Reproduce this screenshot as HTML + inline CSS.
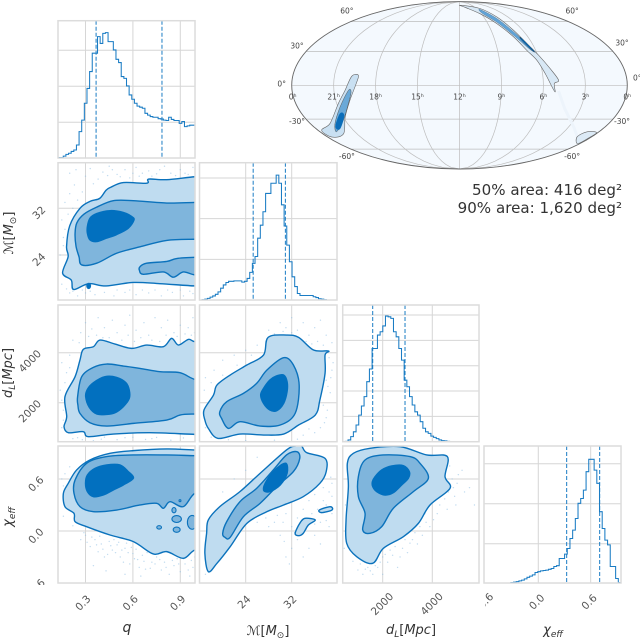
<!DOCTYPE html>
<html>
<head>
<meta charset="utf-8">
<title>Corner plot</title>
<style>
html,body{margin:0;padding:0;background:#fff;width:640px;height:638px;overflow:hidden}
svg{display:block;filter:blur(0.35px);font-family:"DejaVu Sans","Liberation Sans",sans-serif}
</style>
</head>
<body>
<svg id="chart" xmlns="http://www.w3.org/2000/svg" width="640" height="638" viewBox="0 0 640 638">
  <defs>
    <clipPath id="clip-x-neg"><rect x="485" y="590" width="30" height="30"/></clipPath>
    <clipPath id="clip-y-neg"><rect x="20" y="570" width="35" height="15"/></clipPath>
    <clipPath id="clip-sky"><ellipse cx="459.5" cy="85.3" rx="167.8" ry="83.7"/></clipPath>
  </defs>
  <g id="panels"></g>
  <g id="sky"></g>
  <g id="tick-labels"></g>
  <text x="622" y="195" text-anchor="end" font-size="15.1" fill="#333">50% area: 416 deg²</text>
  <text x="622" y="213" text-anchor="end" font-size="15.1" fill="#333">90% area: 1,620 deg²</text>
  <text x="127" y="632" text-anchor="middle" font-size="14" font-style="italic" fill="#333">q</text>
  <text x="268" y="635" text-anchor="middle" font-size="13" fill="#333"><tspan font-style="italic">ℳ</tspan>[<tspan font-style="italic">M</tspan><tspan dy="3" font-size="9">⊙</tspan><tspan dy="-3">]</tspan></text>
  <text x="411" y="634" text-anchor="middle" font-size="13" fill="#333"><tspan font-style="italic">d</tspan><tspan dy="3" font-size="9" font-style="italic">L</tspan><tspan dy="-3">[</tspan><tspan font-style="italic">Mpc</tspan>]</text>
  <text x="553" y="634" text-anchor="middle" font-size="13" fill="#333"><tspan font-style="italic">χ</tspan><tspan dy="3" font-size="9" font-style="italic">eff</tspan></text>
  <text transform="translate(13 233) rotate(-90)" text-anchor="middle" font-size="13" fill="#333"><tspan font-style="italic">ℳ</tspan>[<tspan font-style="italic">M</tspan><tspan dy="3" font-size="9">⊙</tspan><tspan dy="-3">]</tspan></text>
  <text transform="translate(12 373) rotate(-90)" text-anchor="middle" font-size="13" fill="#333"><tspan font-style="italic">d</tspan><tspan dy="3" font-size="9" font-style="italic">L</tspan><tspan dy="-3">[</tspan><tspan font-style="italic">Mpc</tspan>]</text>
  <text transform="translate(12 517) rotate(-90)" text-anchor="middle" font-size="13" fill="#333"><tspan font-style="italic">χ</tspan><tspan dy="3" font-size="9" font-style="italic">eff</tspan></text>
</svg>
<script>
// ---------- histogram values (density) ----------
const histQ = [.02,.02,.06,.11,.14,.19,.23,.37,.74,1.06,1.53,1.94,2.41,2.92,2.92,3.38,3.19,3.47,3.49,3.24,3.24,3.01,2.75,2.66,2.27,2.22,2.01,1.76,1.64,1.53,1.45,1.42,1.39,1.25,1.2,1.16,1.14,1.14,1.1,1.09,1.06,1.05,1.14,1.08,1.05,1.05,.97,1.02,.88,.9,.92,.92];
const histM = [0,.01,.02,.04,.07,.1,.14,.2,.29,.37,.43,.46,.46,.47,.47,.47,.44,.46,.53,.68,.9,1.07,1.52,1.84,2.17,2.62,2.62,2.87,2.87,3.07,2.87,2.34,1.82,1.35,.94,.57,.33,.16,.11,.11,.11,.11,.11,.08,.06,.03,.02,.01,0,0,0,0];
const histD = [0,.01,.07,.2,.39,.66,1.05,1.41,1.78,2.37,2.87,3.68,3.68,4.21,4.34,4.57,4.96,4.93,4.87,4.34,4.14,3.68,3.22,2.43,2.17,1.78,1.45,1.18,1.05,.79,.53,.39,.33,.22,.17,.12,.07,.04,.03,.01,0,0,0,0,0,0,0,0,0,0,0];
const histChi = [0,0,0,0,0,0,0,0,.01,.01,.03,.04,.05,.07,.09,.12,.16,.19,.22,.28,.3,.32,.33,.34,.36,.38,.43,.45,.63,.63,.74,.88,1.13,1.34,1.63,2.01,2.13,2.34,2.8,3.11,3.11,2.84,2.51,1.8,1.38,1.09,.97,.43,.43,.13,.03];
// ---------- credible-interval quantiles ----------
const quantQ = [.367,.784];
const quantM = [25.3,30.9];
const quantD = [1597,2900];
const quantChi = [.325,.703];
// ---------- tick values and labels ----------
const ticksQ = [.3,.6,.9];
const ticksM = [24,32];
const ticksD = [2000,4000];
const ticksChi = [-.6,0,.6];
const labelsQ = ['0.3','0.6','0.9'];
const labelsM = ['24','32'];
const labelsD = ['2000','4000'];
const labelsChi = ['-0.6','0.0','0.6'];
// ---------- contour levels: q vs chirp mass ----------
const qM90 = [[.993,37.4],[.814,36.9],[.70,37.0],[.687,36.3],[.54,36.4],[.46,35.6],[.43,35.1],[.39,33.7],[.33,33.2],[.265,32],[.20,29],[.18,25.4],[.19,23.7],[.155,20.9],[.21,19.7],[.225,18.1],[.32,19.1],[.43,18.7],[.60,19.3],[.77,19.1],[.993,18.7],[1.1,18.7],[1.1,37.4]];
const qM50 = [[.993,33],[.814,32.9],[.603,33.3],[.476,33.3],[.371,32.2],[.29,31],[.245,29.5],[.234,27.7],[.24,25.5],[.259,23.7],[.276,22.3],[.371,22.6],[.497,24.3],[.645,25.4],[.814,26.5],[.993,26.7],[1.1,26.7],[1.1,33]];
const qM50b = [[.645,22],[.687,22.6],[.814,22.9],[.877,23.4],[.993,23.6],[1.1,23.6],[1.1,20.6],[.993,20.6],[.919,21.1],[.856,20.2],[.793,21.1],[.666,20.7],[.641,21.4]];
const qM10 = [[.312,28.9],[.328,30.3],[.371,31.1],[.455,31.6],[.539,31.3],[.592,30.6],[.607,30],[.571,28.6],[.497,27.5],[.434,26.9],[.371,26.3],[.328,26.6],[.312,27.7]];
const qMBlobs = [[.32,18.7,.012,.45]];
// ---------- contour levels: q vs distance ----------
const qD90 = [[.993,4440],[.951,4533],[.888,4306],[.845,4573],[.793,4240],[.687,4306],[.592,4173],[.487,4346],[.392,4506],[.35,4240],[.286,4133],[.265,3707],[.234,3040],[.17,2240],[.181,1440],[.164,1040],[.191,800],[.286,840],[.318,640],[.476,747],[.708,800],[.993,733],[1.1,733],[1.1,4440]];
const qD50 = [[.993,2933],[.898,3200],[.771,3240],[.645,3373],[.539,3467],[.434,3547],[.35,3413],[.276,3040],[.25,2240],[.252,1900],[.265,1573],[.328,1200],[.434,1067],[.603,1173],[.814,1307],[.898,1507],[.993,1547],[1.1,1547],[1.1,2933]];
const qD10 = [[.301,2240],[.312,2533],[.35,2800],[.423,3040],[.497,3013],[.556,2800],[.577,2507],[.577,2173],[.539,1840],[.487,1600],[.434,1533],[.371,1547],[.324,1813]];
// ---------- contour levels: q vs chi_eff ----------
const qChi90 = [[.993,.935],[.814,.946],[.603,.927],[.455,.896],[.328,.819],[.244,.704],[.191,.55],[.16,.435],[.17,.281],[.227,.204],[.234,.108],[.307,.05],[.455,-.046],[.603,-.123],[.729,-.265],[.814,-.238],[.919,-.315],[.993,-.219],[1.1,-.219],[1.1,.935]];
const qChi50 = [[.993,.869],[.814,.877],[.603,.877],[.434,.858],[.307,.781],[.234,.588],[.227,.435],[.265,.281],[.35,.223],[.497,.242],[.645,.3],[.75,.319],[.793,.262],[.835,.338],[.919,.281],[.993,.435],[1.1,.435],[1.1,.869]];
const qChi10 = [[.3,.55],[.312,.646],[.36,.723],[.434,.762],[.518,.762],[.571,.685],[.603,.608],[.539,.531],[.476,.473],[.413,.415],[.35,.396],[.312,.454]];
const qChiIslands = [[.877,.138,.03,.04],[.766,.042,.015,.02],[.877,.015,.022,.03],[.975,.1,.03,.08],[.86,.24,.013,.03],[.898,.35,.006,.012]];
// ---------- contour levels: chirp mass vs distance ----------
const mD90 = [[16.75,1707],[18.4,2307],[19,2707],[21.3,3107],[24.2,3507],[27.1,3907],[27.9,4613],[31.1,4707],[33.2,4613],[35.8,4107],[38.4,4067],[37.8,3907],[37.8,3173],[36.9,2107],[36.1,1507],[33.2,1107],[30.6,747],[27.1,707],[23,747],[19.2,573],[17.5,973],[16.9,1307]];
const mD50 = [[19.5,1640],[20.7,2040],[23.6,2373],[25.9,2773],[27.7,3307],[30.6,3800],[32.3,3507],[33.3,2707],[32.6,1573],[30,1107],[26.5,1067],[23,1240],[21,973],[19.8,1373]];
const mD10 = [[26.6,2307],[27.1,2573],[28.2,2907],[29.3,3067],[30.6,3107],[31.2,2840],[31.2,2440],[30.6,1973],[29.4,1680],[28.2,1707],[27.1,1973]];
// ---------- contour levels: chirp mass vs chi_eff ----------
const mChi90 = [[17.5,-.469],[16.9,-.258],[17.2,-.027],[17.5,.127],[19.5,.281],[23,.454],[26.5,.665],[31.1,.935],[32.6,.98],[33.7,.98],[34.6,.904],[37.8,.838],[38,.685],[36.9,.55],[34,.396],[30.6,.3],[27.7,.223],[24.2,.088],[21.3,-.181],[19,-.373]];
const mChi50 = [[20,-.027],[20.7,.108],[23,.338],[25.9,.492],[28.8,.704],[31.1,.877],[32.9,.915],[33.4,.838],[32.3,.685],[29.4,.512],[26.5,.319],[23.6,.165],[21.3,-.073],[20.4,-.073]];
const mChi10 = [[27.1,.473],[27.7,.588],[29.4,.723],[31,.781],[31.2,.665],[30,.531],[28.2,.454]];
const mChiTailA = [[32.6,-.027],[33.4,.088],[34.3,.146],[36.1,.127],[34.9,.069],[34,-.027],[33.2,-.054]];
const mChiTailB = [[36.8,.242],[38.7,.281],[39,.242],[37.2,.212]];
// ---------- contour levels: distance vs chi_eff ----------
const dChi90 = [[575,.781],[817,.896],[1489,.954],[2699,.973],[3774,.877],[4607,.858],[4513,.627],[4715,.492],[3908,.3],[3438,.088],[2833,-.065],[2027,-.2],[1597,-.373],[952,-.296],[548,-.142],[522,.127],[616,.512]];
const dChi50 = [[1019,.627],[1288,.819],[2027,.877],[3102,.858],[3505,.781],[3841,.608],[3236,.454],[2430,.262],[1960,.05],[1489,-.027],[1194,.012],[1288,.204],[1019,.396]];
const dChi10 = [[1583,.569],[1691,.627],[1960,.704],[2363,.75],[2833,.754],[3075,.685],[3035,.608],[2766,.531],[2430,.442],[2094,.415],[1758,.454],[1597,.512]];
// ---------- sample scatter ----------
const scatterQM = [[.2,38],[.24,38.6],[.3,37.5],[.33,38.8],[.38,37],[.41,38.2],[.45,39.2],[.5,37.8],[.55,38.6],[.58,37.2],[.62,39],[.66,38],[.7,38.4],[.75,37.9],[.8,39.2],[.84,38],[.9,38.6],[.95,37.8],[.98,39],[.17,33],[.2,34.5],[.23,36],[.15,30],[.16,27],[.19,31],[.14,24],[.17,22],[.2,17.5],[.25,17],[.3,17.5],[.36,17.2],[.42,17.6],[.48,17],[.55,17.6],[.62,17.2],[.7,17.5],[.78,17],[.85,17.6],[.92,17],[.98,17.4],[.44,37.6],[.47,38.6],[.52,37.4],[.6,38],[.64,37.5],[.72,37.5],[.77,38.6],[.87,37.6],[.93,38],[.35,36.2],[.28,34.8],[.25,33.4],[.22,32],[.17,28.4],[.16,25.6],[.15,19],[.18,18.2],[.28,18],[.22,17.8],[.33,17.8],[.5,18],[.58,18],[.66,18],[.74,18],[.82,18],[.9,18],[.96,17.8]];
const scatterQD = [[.22,4500],[.27,4800],[.3,5200],[.34,4950],[.38,5400],[.42,5000],[.47,5300],[.5,4800],[.55,5100],[.58,5500],[.62,4900],[.67,5200],[.7,4700],[.74,5400],[.78,5000],[.82,5300],[.86,4800],[.9,5100],[.95,5000],[.98,5400],[.15,3600],[.18,3200],[.2,3900],[.14,2500],[.16,1700],[.15,1000],[.22,560],[.28,520],[.35,480],[.42,620],[.5,520],[.6,620],[.68,530],[.75,610],[.84,500],[.92,590],[.26,4400],[.32,4650],[.37,4700],[.41,4600],[.45,4600],[.53,4500],[.57,4700],[.61,4450],[.65,4600],[.72,4500],[.77,4450],[.81,4700],[.88,4650],[.93,4750],[.97,4700],[.99,4800],[.2,3400],[.17,2800],[.15,2100],[.16,1300],[.25,600],[.4,540],[.55,600],[.72,560]];
const scatterQChi = [[.17,.66],[.2,.74],[.16,.52],[.15,.6],[.19,.25],[.16,.17],[.22,.06],[.27,-.1],[.3,-.05],[.33,-.18],[.36,-.1],[.38,-.24],[.4,-.15],[.42,-.3],[.45,-.12],[.47,-.22],[.5,-.16],[.52,-.3],[.55,-.2],[.58,-.38],[.6,-.26],[.63,-.33],[.66,-.28],[.68,-.44],[.72,-.36],[.75,-.3],[.78,-.45],[.8,-.36],[.83,-.5],[.86,-.4],[.88,-.32],[.9,-.47],[.93,-.38],[.96,-.52],[.98,-.42],[.99,-.3],[.35,-.4],[.43,-.46],[.55,-.5],[.65,-.52],[.29,-.02],[.31,-.13],[.34,-.07],[.37,-.16],[.39,-.06],[.41,-.21],[.44,-.27],[.46,-.17],[.48,-.1],[.49,-.25],[.51,-.13],[.53,-.22],[.54,-.36],[.56,-.14],[.57,-.25],[.59,-.19],[.61,-.32],[.62,-.21],[.64,-.42],[.67,-.35],[.69,-.25],[.71,-.43],[.74,-.38],[.77,-.33],[.81,-.42],[.85,-.34],[.89,-.38],[.92,-.32],[.95,-.45],[.97,-.34]];
const scatterMD = [[26,4300],[28,4900],[30,5200],[31,5000],[32,5400],[33,4900],[34,5200],[35,4700],[36,5000],[37,5300],[38,4700],[39,4400],[38.5,3800],[39,3300],[38,2900],[38.7,2400],[37.5,1900],[38,1400],[37,1000],[36,800],[34,700],[33,540],[29,500],[24,480],[17,3000],[18.5,3300],[20,3700],[22,3900],[24,4100],[16.8,2500],[28,4500],[32,4800],[29,4750],[30.5,4850],[34.5,4450],[35.5,4350],[36.5,4450],[37.5,4300],[38.8,3000],[38.3,2650],[38.2,1700],[37.7,1200],[35,950],[37,3900],[39.2,3600],[18,2800],[20,3100],[22.5,3500],[25,3900],[17,1000],[18,620],[21,520]];
const scatterMChi = [[29,.1],[30,-.05],[31,.2],[32,-.2],[31,-.3],[33,-.1],[34,.25],[35,.35],[36,.42],[37,.1],[38,.3],[39,.4],[38.5,.05],[37,-.15],[36,-.05],[35,-.2],[34,-.3],[33,.15],[28,.05],[27.5,.15],[26,.1],[39,.55],[17,-.5],[20,.45],[22,.6],[24,.7],[26,.85],[29.5,.18],[30.5,.1],[32,.05],[32.5,-.02],[30.7,-.12],[31.6,-.38],[35.5,.2],[36.5,.25],[37.5,.35],[38.5,.45],[39,.2],[38,.12],[36,.08],[34.5,.02],[37.5,.5],[38.8,.62]];
const scatterDChi = [[800,-.35],[1000,-.45],[1200,-.5],[1400,-.42],[1600,-.5],[1800,-.42],[2000,-.3],[2200,-.36],[2400,-.28],[2600,-.42],[2800,-.2],[3000,-.25],[3200,-.1],[3400,-.15],[3000,0],[3500,.05],[3700,.2],[3900,.05],[4000,.35],[4200,.2],[4400,.42],[4600,.25],[4800,.6],[5000,.55],[5200,.7],[5500,.5],[4900,.4],[5700,.3],[4700,.75],[3600,-.05],[450,-.2],[500,.3],[2000,-.5],[2600,-.1],[3300,.12],[1100,-.38],[1300,-.44],[1500,-.46],[1700,-.4],[1900,-.36],[2100,-.27],[2300,-.22],[2500,-.18],[2700,-.3],[2900,-.1],[3100,-.14],[3300,-.02],[3500,.17],[3750,.1],[3800,.3],[4050,.13],[4300,.3],[4500,.37],[4650,.45],[4850,.5],[5050,.65],[5300,.45],[4950,.3]];
// ---------- sky-map regions, [right ascension hours, declination degrees] ----------
const skyArc90 = [[11.84,81.5],[8.31,76.4],[7.37,65],[6.87,50.6],[6.44,37.3],[5.94,26.6],[5.38,14.5],[4.9,4.4],[5.22,1.5],[5.14,-5.8],[5.5,1.5],[5.8,10],[6.2,22],[6.7,31],[7.26,44],[8.04,57.5],[9.13,69],[10.85,78]];
const skyArc50 = [[8.54,74.9],[7.57,63.3],[6.98,49],[6.37,35.8],[6.1,29.6],[6.41,31.8],[7.18,45.5],[7.9,58.7],[8.82,70]];
const skyArc10 = [[6.62,42.5],[6.17,31],[6.3,31],[6.75,41.5]];
const skySouth90 = [[19.28,8.8],[19.75,7.9],[20.2,-4.4],[20.88,-16],[22.4,-34],[23.69,-40.5],[23.6,-47.2],[22.18,-44],[20.83,-28],[19.96,-13],[19.39,1.5]];
const skySouth50 = [[19.96,-4.4],[20.84,-19],[22,-34],[22.58,-42],[21.14,-31],[20.14,-16],[19.78,-5.8]];
const skySouth10 = [[21.08,-25],[22.19,-37],[21.99,-39],[20.85,-26.6]];
const skyCorner90 = [[1.32,-47],[1.02,-42],[.12,-42.7],[.11,-47],[.2,-54]];
const skyTrail = [[4.9,-5],[4.2,-20],[2.5,-38],[1.3,-47]];
const skyHours = [24,21,18,15,12,9,6,3,0];
const skyHourLabels = ['0ʰ','21ʰ','18ʰ','15ʰ','12ʰ','9ʰ','6ʰ','3ʰ','0ʰ'];
const skyDecs = [60,30,0,-30,-60];
const skyDecLabels = ['60°','30°','0°','-30°','-60°'];

// ---------- axis functions ----------
const xAxis = {
  q: v => 85.5 + (v - .3) * 158,
  M: v => 245.7 + (v - 24) * 5.75,
  d: v => 382.7 + (v - 2000) * .0248,
  chi: v => 538.3 + v * 87.3
};
const yAxis = {
  M: v => 208.3 - (v - 32) * 5.84,
  d: v => 352.7 - (v - 4000) * .025,
  chi: v => 531 - v * 86.7
};
const colBox = {q:[58,195], M:[199.5,337], d:[342.7,479], chi:[484,621]};
const rowBox = {hist:[20.7,158], M:[162.7,300], d:[305,441.7], chi:[446,583]};
const tickSets = {q:ticksQ, M:ticksM, d:ticksD, chi:ticksChi};

const NS = 'http://www.w3.org/2000/svg';
const C_LIGHT = '#bfdcf0', C_MID = '#7fb5dc', C_DARK = '#0270bf', C_LINE = '#0b72bc';

function add(parent, tag, name, attrs) {
  const el = document.createElementNS(NS, tag);
  
  
  for (const k in attrs) el.setAttribute(k, attrs[k]);
  parent.appendChild(el);
  return el;
}
function smoothClosed(pts) {
  const n = pts.length;
  let d = 'M' + pts[0][0].toFixed(2) + ' ' + pts[0][1].toFixed(2);
  for (let i = 0; i < n; i++) {
    const p0 = pts[(i - 1 + n) % n], p1 = pts[i], p2 = pts[(i + 1) % n], p3 = pts[(i + 2) % n];
    const c1x = p1[0] + (p2[0] - p0[0]) / 6, c1y = p1[1] + (p2[1] - p0[1]) / 6;
    const c2x = p2[0] - (p3[0] - p1[0]) / 6, c2y = p2[1] - (p3[1] - p1[1]) / 6;
    d += 'C' + c1x.toFixed(2) + ' ' + c1y.toFixed(2) + ' ' + c2x.toFixed(2) + ' ' + c2y.toFixed(2) + ' ' + p2[0].toFixed(2) + ' ' + p2[1].toFixed(2);
  }
  return d + 'Z';
}
const panelsRoot = document.getElementById('panels');
let clipCount = 0;
function makePanel(name, xKey, yBox, hTicks) {
  const cb = colBox[xKey], rb = rowBox[yBox];
  const g = add(panelsRoot, 'g', name, {});
  add(g, 'rect', name + '-background', {x:cb[0], y:rb[0], width:cb[1]-cb[0], height:rb[1]-rb[0], fill:'#fff'});
  tickSets[xKey].forEach(t => {
    const px = xAxis[xKey](t);
    if (px > cb[0] + 3) add(g, 'line', name + '-vertical-gridline', {x1:px, x2:px, y1:rb[0], y2:rb[1], stroke:'#d6d6d6', 'stroke-width':1});
  });
  hTicks.forEach(py => {
    add(g, 'line', name + '-horizontal-gridline', {x1:cb[0], x2:cb[1], y1:py, y2:py, stroke:'#d6d6d6', 'stroke-width':1});
  });
  const id = 'clip-panel-' + (clipCount++);
  const cp = document.createElementNS(NS, 'clipPath');
  cp.setAttribute('id', id);
  const r = document.createElementNS(NS, 'rect');
  r.setAttribute('x', cb[0]); r.setAttribute('y', rb[0]);
  r.setAttribute('width', cb[1]-cb[0]); r.setAttribute('height', rb[1]-rb[0]);
  cp.appendChild(r);
  document.querySelector('defs').appendChild(cp);
  const inner = add(g, 'g', name + '-marks', {'clip-path':'url(#' + id + ')'});
  const frame = add(g, 'rect', name + '-frame', {x:cb[0], y:rb[0], width:cb[1]-cb[0], height:rb[1]-rb[0], fill:'none', stroke:'#dcdcdc', 'stroke-width':1.5});
  return {g, inner, frame};
}
function histPanel(name, xKey, row, values, quants, base, scale, yTicks) {
  const cb = colBox[xKey];
  const p = makePanel(name, xKey, row, yTicks.map(t => base - t * scale));
  const w = (cb[1] - cb[0]) / values.length;
  let d = 'M' + cb[0] + ' ' + base;
  values.forEach((v, i) => {
    const y = (base - v * scale).toFixed(2);
    d += 'L' + (cb[0] + i * w).toFixed(2) + ' ' + y + 'L' + (cb[0] + (i + 1) * w).toFixed(2) + ' ' + y;
  });
  add(p.inner, 'path', name + '-histogram', {d:d, fill:'none', stroke:'#1a7cc4', 'stroke-width':1.05});
  quants.forEach(q => {
    const px = xAxis[xKey](q);
    add(p.inner, 'line', name + '-quantile-line', {x1:px, x2:px, y1:rowBox[row][0], y2:rowBox[row][1], stroke:'#1a7cc4', 'stroke-width':1, 'stroke-dasharray':'4 2'});
  });
}
function contourPanel(name, xKey, yKey, scatter, layers, islands, islandFill) {
  const fx = xAxis[xKey], fy = yAxis[yKey];
  const p = makePanel(name, xKey, yKey, tickSets[yKey].map(fy));
  scatter.forEach(s => {
    add(p.inner, 'circle', name + '-sample-point', {cx:fx(s[0]), cy:fy(s[1]), r:.7, fill:'#8fc0e4', opacity:.55});
  });
  layers.forEach(l => {
    const pts = l.data.map(a => [fx(a[0]), fy(a[1])]);
    add(p.inner, 'path', name + '-' + l.name, {d:smoothClosed(pts), fill:l.fill, stroke:l.stroke === undefined ? C_LINE : l.stroke, 'stroke-width':1.4});
  });
  (islands || []).forEach(e => {
    add(p.inner, 'ellipse', name + '-island', {
      cx:fx(e[0]), cy:fy(e[1]),
      rx:Math.abs(fx(e[0] + e[2]) - fx(e[0])), ry:Math.abs(fy(e[1] + e[3]) - fy(e[1])),
      fill:islandFill || C_MID, stroke:C_LINE, 'stroke-width':1.1
    });
  });
}

histPanel('q-histogram-panel', 'q', 'hist', histQ, quantQ, 158.3, 36, [1,2,3]);
histPanel('chirp-mass-histogram-panel', 'M', 'M', histM, quantM, 300, 40.67, [1,2,3]);
histPanel('distance-histogram-panel', 'd', 'd', histD, quantD, 441.7, 25.33, [1,2,3,4,5]);
histPanel('chi-eff-histogram-panel', 'chi', 'chi', histChi, quantChi, 583.7, 40, [1,2,3]);

contourPanel('q-vs-chirp-mass-panel', 'q', 'M', scatterQM, [
  {name:'contour-90', data:qM90, fill:C_LIGHT},
  {name:'contour-50', data:qM50, fill:C_MID},
  {name:'contour-50-lobe', data:qM50b, fill:C_MID},
  {name:'contour-10', data:qM10, fill:C_DARK, stroke:C_DARK}
], qMBlobs, C_DARK);
contourPanel('q-vs-distance-panel', 'q', 'd', scatterQD, [
  {name:'contour-90', data:qD90, fill:C_LIGHT},
  {name:'contour-50', data:qD50, fill:C_MID},
  {name:'contour-10', data:qD10, fill:C_DARK, stroke:C_DARK}
]);
contourPanel('q-vs-chi-eff-panel', 'q', 'chi', scatterQChi, [
  {name:'contour-90', data:qChi90, fill:C_LIGHT},
  {name:'contour-50', data:qChi50, fill:C_MID},
  {name:'contour-10', data:qChi10, fill:C_DARK, stroke:C_DARK}
], qChiIslands, C_MID);
contourPanel('chirp-mass-vs-distance-panel', 'M', 'd', scatterMD, [
  {name:'contour-90', data:mD90, fill:C_LIGHT},
  {name:'contour-50', data:mD50, fill:C_MID},
  {name:'contour-10', data:mD10, fill:C_DARK, stroke:C_DARK}
]);
contourPanel('chirp-mass-vs-chi-eff-panel', 'M', 'chi', scatterMChi, [
  {name:'contour-90', data:mChi90, fill:C_LIGHT},
  {name:'contour-50', data:mChi50, fill:C_MID},
  {name:'contour-10', data:mChi10, fill:C_DARK, stroke:C_DARK},
  {name:'tail-island-a', data:mChiTailA, fill:C_LIGHT},
  {name:'tail-island-b', data:mChiTailB, fill:C_LIGHT}
]);
contourPanel('distance-vs-chi-eff-panel', 'd', 'chi', scatterDChi, [
  {name:'contour-90', data:dChi90, fill:C_LIGHT},
  {name:'contour-50', data:dChi50, fill:C_MID},
  {name:'contour-10', data:dChi10, fill:C_DARK, stroke:C_DARK}
]);

// ---------- tick labels ----------
const tl = document.getElementById('tick-labels');
function rotLabel(name, txt, cx, cy, clip) {
  const t = add(clip ? add(tl, 'g', name + '-clip', {'clip-path':'url(#' + clip + ')'}) : tl, 'text', name, {
    transform:'rotate(-45 ' + cx + ' ' + cy + ')', x:cx, y:cy + 3.5, 'text-anchor':'middle', 'font-size':10.5, fill:'#555'
  });
  t.textContent = txt;
}
ticksQ.forEach((t, i) => rotLabel('x-tick-label-q', labelsQ[i], xAxis.q(t) - 2.5, 603));
ticksM.forEach((t, i) => rotLabel('x-tick-label-chirp-mass', labelsM[i], xAxis.M(t) - 1.5, 602));
ticksD.forEach((t, i) => rotLabel('x-tick-label-distance', labelsD[i], xAxis.d(t) - .5, 604));
ticksChi.forEach((t, i) => rotLabel('x-tick-label-chi-eff', labelsChi[i], xAxis.chi(t) - 1.5, 602, t < 0 ? 'clip-x-neg' : null));
ticksM.forEach((t, i) => rotLabel('y-tick-label-chirp-mass', labelsM[i], 39, yAxis.M(t) + 4.5));
ticksD.forEach((t, i) => rotLabel('y-tick-label-distance', labelsD[i], 30, yAxis.d(t) + 8.5));
ticksChi.forEach((t, i) => rotLabel('y-tick-label-chi-eff', labelsChi[i], 36, yAxis.chi(t) + 5, t < 0 ? 'clip-y-neg' : null));

// ---------- sky map (Mollweide) ----------
function sky(ra, dec) {
  const phi = dec * Math.PI / 180;
  let th = phi;
  if (Math.abs(dec) < 90) {
    for (let i = 0; i < 30; i++) {
      th -= (2 * th + Math.sin(2 * th) - Math.PI * Math.sin(phi)) / (2 + 2 * Math.cos(2 * th));
    }
  }
  return [459.5 + 167.8 * ((12 - ra) / 12) * Math.cos(th), 85.3 - 83.7 * Math.sin(th)];
}
const skyG = document.getElementById('sky');
add(skyG, 'ellipse', 'sky-map-background', {cx:459.5, cy:85.3, rx:167.8, ry:83.7, fill:'#f4f9fe'});
const skyInner = add(skyG, 'g', 'sky-map-contents', {'clip-path':'url(#clip-sky)'});
skyHours.forEach(h => {
  let d = '';
  for (let dec = -90; dec <= 90; dec += 5) {
    const p = sky(h, dec);
    d += (d ? 'L' : 'M') + p[0].toFixed(2) + ' ' + p[1].toFixed(2);
  }
  add(skyInner, 'path', 'sky-meridian', {d:d, fill:'none', stroke:'#bdbdbd', 'stroke-width':.7});
});
skyDecs.forEach(dc => {
  const a = sky(24, dc), b = sky(0, dc);
  add(skyInner, 'line', 'sky-parallel', {x1:a[0], y1:a[1], x2:b[0], y2:b[1], stroke:'#bdbdbd', 'stroke-width':.7});
});
add(skyInner, 'path', 'sky-faint-trail', {d:'M' + skyTrail.map(a => sky(a[0], a[1]).map(v => v.toFixed(2)).join(' ')).join('L'), fill:'none', stroke:'#edf4fb', 'stroke-width':3});
[
  {name:'sky-arc-contour-90', data:skyArc90, fill:'#d8e8f5', stroke:'#666', sw:.6},
  {name:'sky-arc-contour-50', data:skyArc50, fill:'#5fa3d8', stroke:'#5b7389', sw:.4},
  {name:'sky-arc-contour-10', data:skyArc10, fill:'#0a6db9', stroke:'#333', sw:.4},
  {name:'sky-south-contour-90', data:skySouth90, fill:'#c9e0f2', stroke:'#666', sw:.6},
  {name:'sky-south-contour-50', data:skySouth50, fill:'#6aa9d8', stroke:'#555', sw:.5},
  {name:'sky-south-contour-10', data:skySouth10, fill:'#0a6db9', stroke:'#0a6db9', sw:.5},
  {name:'sky-corner-contour-90', data:skyCorner90, fill:'#dceaf6', stroke:'#666', sw:.6}
].forEach(l => {
  add(skyInner, 'path', l.name, {d:smoothClosed(l.data.map(a => sky(a[0], a[1]))), fill:l.fill, stroke:l.stroke, 'stroke-width':l.sw});
});
add(skyG, 'ellipse', 'sky-map-outline', {cx:459.5, cy:85.3, rx:167.8, ry:83.7, fill:'none', stroke:'#666', 'stroke-width':.9});
skyHours.forEach((h, i) => {
  const p = sky(h, 0);
  const t = add(skyG, 'text', 'sky-hour-label', {x:p[0] + (i === 0 ? 1 : 0), y:p[1] + 14, 'text-anchor':'middle', 'font-size':7.5, fill:'#444'});
  t.textContent = skyHourLabels[i];
});
skyDecs.forEach((dc, i) => {
  const L = sky(24, dc), R = sky(0, dc);
  const offX = dc === 0 ? 10 : (Math.abs(dc) === 60 ? 4 : 9);
  const dyL = dc === 0 ? 1 : (dc === 60 ? -8 : (dc === 30 ? -3 : (dc === -30 ? 5 : 10)));
  const a = add(skyG, 'text', 'sky-declination-label', {x:L[0] - offX, y:L[1] + dyL, 'text-anchor':'middle', 'font-size':7.5, fill:'#444'});
  a.textContent = skyDecLabels[i];
  const dyR = dc === 0 ? -5 : dyL - (dc === 30 ? 3 : 0);
  const b = add(skyG, 'text', 'sky-declination-label', {x:R[0] + offX, y:R[1] + dyR, 'text-anchor':'middle', 'font-size':7.5, fill:'#444'});
  b.textContent = skyDecLabels[i];
});
</script>
</body>
</html>
